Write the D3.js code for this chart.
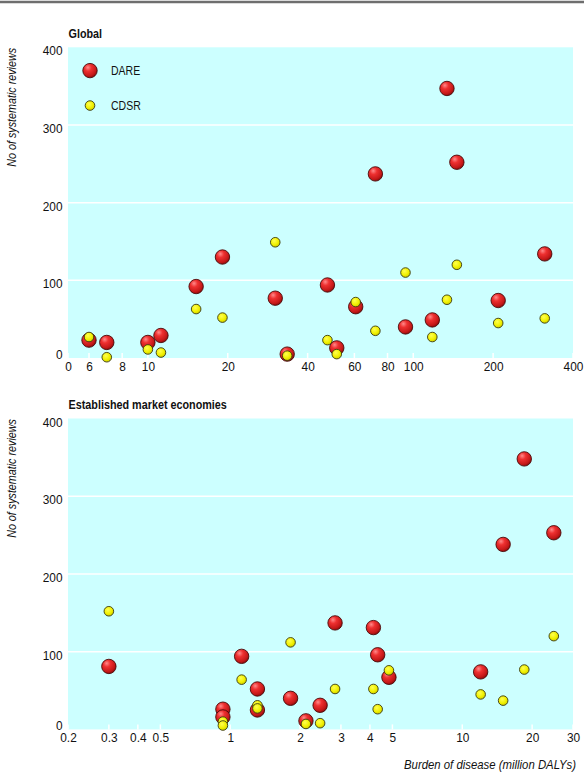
<!DOCTYPE html>
<html><head><meta charset="utf-8">
<script src="https://cdn.jsdelivr.net/npm/d3@7/dist/d3.min.js"></script>
<style>
html,body{margin:0;padding:0;background:#fff;}
svg{display:block;}
text{fill:#111;}
</style></head>
<body><div id="chart"></div>
<script>
// ---------- data ----------
const seriesNames = ["DARE", "CDSR"];
const panelTitles = ["Global", "Established market economies"];

const globalBurden = [6, 7, 10, 11.2, 15.2, 19.1, 30.2, 33.5, 47.5, 51.5, 60.7, 72, 93.5, 118, 134, 146, 209, 313];
const globalDARE   = [23, 20, 20, 29, 92, 130, 77, 5, 94, 13, 66, 237, 40, 49, 347, 252, 74, 134];
const globalCDSR   = [27, 1, 11, 7, 63, 52, 149, 3, 23, 5, 72, 35, 110, 27, 75, 120, 45, 51];

const emeBurden = [0.3, 0.93, 0.93, 1.12, 1.31, 1.31, 1.82, 2.12, 2.44, 2.83, 4.14, 4.32, 4.83, 12, 15, 18.5, 24.8];
const emeDARE   = [81, 26, 16, 94, 52, 25, 40, 11, 31, 137, 131, 96, 67, 74, 238, 348, 253];
const emeCDSR   = [152, 10, 5, 64, 31, 27, 112, 7, 8, 52, 52, 26, 76, 45, 37, 77, 120];

const globalXDomain = [5, 400];
const globalXTicks = [5, 6, 8, 10, 20, 40, 60, 80, 100, 200, 400];
const globalXTickLabels = ["0", "6", "8", "10", "20", "40", "60", "80", "100", "200", "400"];

const emeXDomain = [0.2, 30];
const emeXTicks = [0.2, 0.3, 0.4, 0.5, 1, 2, 3, 4, 5, 10, 20, 30];
const emeXTickLabels = ["0.2", "0.3", "0.4", "0.5", "1", "2", "3", "4", "5", "10", "20", "30"];

const yDomain = [0, 400];
const yTicks = [0, 100, 200, 300, 400];
const yGridTicks = [100, 200, 300];

const yTitle = "No of systematic reviews";
const xTitle = "Burden of disease (million DALYs)";

// ---------- layout ----------
const FONT_STACK = `"Liberation Sans", Arial, Helvetica, sans-serif`;
const W = 584, H = 774;
const left = 68, right = 573;
const panels = [
  {title: panelTitles[0], top: 47.3, bottom: 358, burden: globalBurden, dare: globalDARE, cdsr: globalCDSR,
   xDomain: globalXDomain, xTicks: globalXTicks, xLabels: globalXTickLabels, legend: true},
  {title: panelTitles[1], top: 418.5, bottom: 729.4, burden: emeBurden, dare: emeDARE, cdsr: emeCDSR,
   xDomain: emeXDomain, xTicks: emeXTicks, xLabels: emeXTickLabels, legend: false}
];

// horizontal condensing (around each text's own anchor) to imitate a narrow typeface
function squeeze(sel, factor) {
  sel.each(function () {
    const t = d3.select(this);
    const ax = +(t.attr("x") || 0);
    const prev = t.attr("transform") || "";
    t.attr("transform", `${prev} translate(${ax},0) scale(${factor},1) translate(${-ax},0)`.trim());
  });
}

const svg = d3.select("#chart").append("svg").attr("width", W).attr("height", H)
  .style("font-family", FONT_STACK);
const defs = svg.append("defs");
const rg = defs.append("radialGradient").attr("id", "redGrad")
  .attr("cx", "38%").attr("cy", "32%").attr("r", "70%").attr("fx", "35%").attr("fy", "28%");
rg.append("stop").attr("offset", "0%").attr("stop-color", "#ff8a8a");
rg.append("stop").attr("offset", "35%").attr("stop-color", "#ee3030");
rg.append("stop").attr("offset", "80%").attr("stop-color", "#c41818");
rg.append("stop").attr("offset", "100%").attr("stop-color", "#8a0c0c");
const yg = defs.append("radialGradient").attr("id", "yelGrad")
  .attr("cx", "40%").attr("cy", "35%").attr("r", "70%");
yg.append("stop").attr("offset", "0%").attr("stop-color", "#ffff50");
yg.append("stop").attr("offset", "60%").attr("stop-color", "#f0f000");
yg.append("stop").attr("offset", "100%").attr("stop-color", "#c8c800");

const RED_R = 7.2, YEL_R = 4.8;

svg.append("line").attr("x1", 0).attr("x2", W).attr("y1", 2).attr("y2", 2)
  .attr("stroke", "#6e6e6e").attr("stroke-width", 2.5);

panels.forEach(p => {
  const x = d3.scaleLog().domain(p.xDomain).range([left, right]);
  const y = d3.scaleLinear().domain(yDomain).range([p.bottom, p.top]);
  const g = svg.append("g");

  g.append("rect").attr("x", left).attr("y", p.top).attr("width", right - left)
    .attr("height", p.bottom - p.top).attr("fill", "#ccffff");

  g.selectAll(".grid").data(yGridTicks).join("line")
    .attr("x1", left).attr("x2", right).attr("y1", d => y(d)).attr("y2", d => y(d))
    .attr("stroke", "#ffffff").attr("stroke-width", 1.5);

  g.selectAll(".xt").data(p.xTicks).join("line")
    .attr("x1", d => x(d)).attr("x2", d => x(d))
    .attr("y1", p.bottom - 5).attr("y2", p.bottom)
    .attr("stroke", "#ffffff").attr("stroke-width", 1.5);

  const title = g.append("text").attr("x", left + 0.5).attr("y", p.top - 9.5)
    .attr("font-size", 13.5).attr("font-weight", "bold").text(p.title);
  squeeze(title, 0.8);

  const ya = g.append("g").attr("transform", `translate(${left},0)`)
    .call(d3.axisLeft(y).tickValues(yTicks).tickSize(0).tickPadding(5.5));
  ya.select(".domain").remove();
  ya.attr("font-family", null).attr("font-size", null);
  ya.selectAll("text").attr("font-size", 12.5).attr("fill", "#111")
    .attr("dy", d => d === 0 ? "0em" : "0.6em");
  squeeze(ya.selectAll("text"), 0.95);

  const xa = g.append("g").attr("transform", `translate(0,${p.bottom})`)
    .call(d3.axisBottom(x).tickValues(p.xTicks).tickSize(0).tickPadding(4)
      .tickFormat((d, i) => p.xLabels[i]));
  xa.select(".domain").remove();
  xa.attr("font-family", null).attr("font-size", null);
  xa.selectAll("text").attr("font-size", 12.5).attr("fill", "#111");
  squeeze(xa.selectAll("text"), 0.95);

  const yt = g.append("text")
    .attr("transform", `translate(16,${p.top + 60}) rotate(-90)`)
    .attr("text-anchor", "middle").attr("font-size", 12.5).attr("font-style", "italic")
    .text(yTitle);
  squeeze(yt, 0.86);

  const pts = p.burden.map((b, i) => ({b, dare: p.dare[i], cdsr: p.cdsr[i]}));
  g.selectAll(".dare").data(pts).join("circle")
    .attr("cx", d => x(d.b)).attr("cy", d => y(d.dare)).attr("r", RED_R)
    .attr("fill", "url(#redGrad)").attr("stroke", "#4a0a0a").attr("stroke-width", 0.9);
  g.selectAll(".cdsr").data(pts).join("circle")
    .attr("cx", d => x(d.b)).attr("cy", d => y(d.cdsr)).attr("r", YEL_R)
    .attr("fill", "url(#yelGrad)").attr("stroke", "#3a3a10").attr("stroke-width", 0.9);

  if (p.legend) {
    const lg = g.append("g");
    const items = [{name: seriesNames[0], r: RED_R, fill: "url(#redGrad)", stroke: "#4a0a0a", yv: 370},
                   {name: seriesNames[1], r: YEL_R, fill: "url(#yelGrad)", stroke: "#3a3a10", yv: 325}];
    items.forEach(it => {
      lg.append("circle").attr("cx", 90).attr("cy", y(it.yv)).attr("r", it.r)
        .attr("fill", it.fill).attr("stroke", it.stroke).attr("stroke-width", 0.9);
      const t = lg.append("text").attr("x", 111).attr("y", y(it.yv)).attr("dy", "0.36em")
        .attr("font-size", 12.5).text(it.name);
      squeeze(t, 0.84);
    });
  }
});

const xt = svg.append("text").attr("x", 576).attr("y", 769).attr("text-anchor", "end")
  .attr("font-size", 12.5).attr("font-style", "italic").text(xTitle);
squeeze(xt, 0.91);
</script>
</body></html>
